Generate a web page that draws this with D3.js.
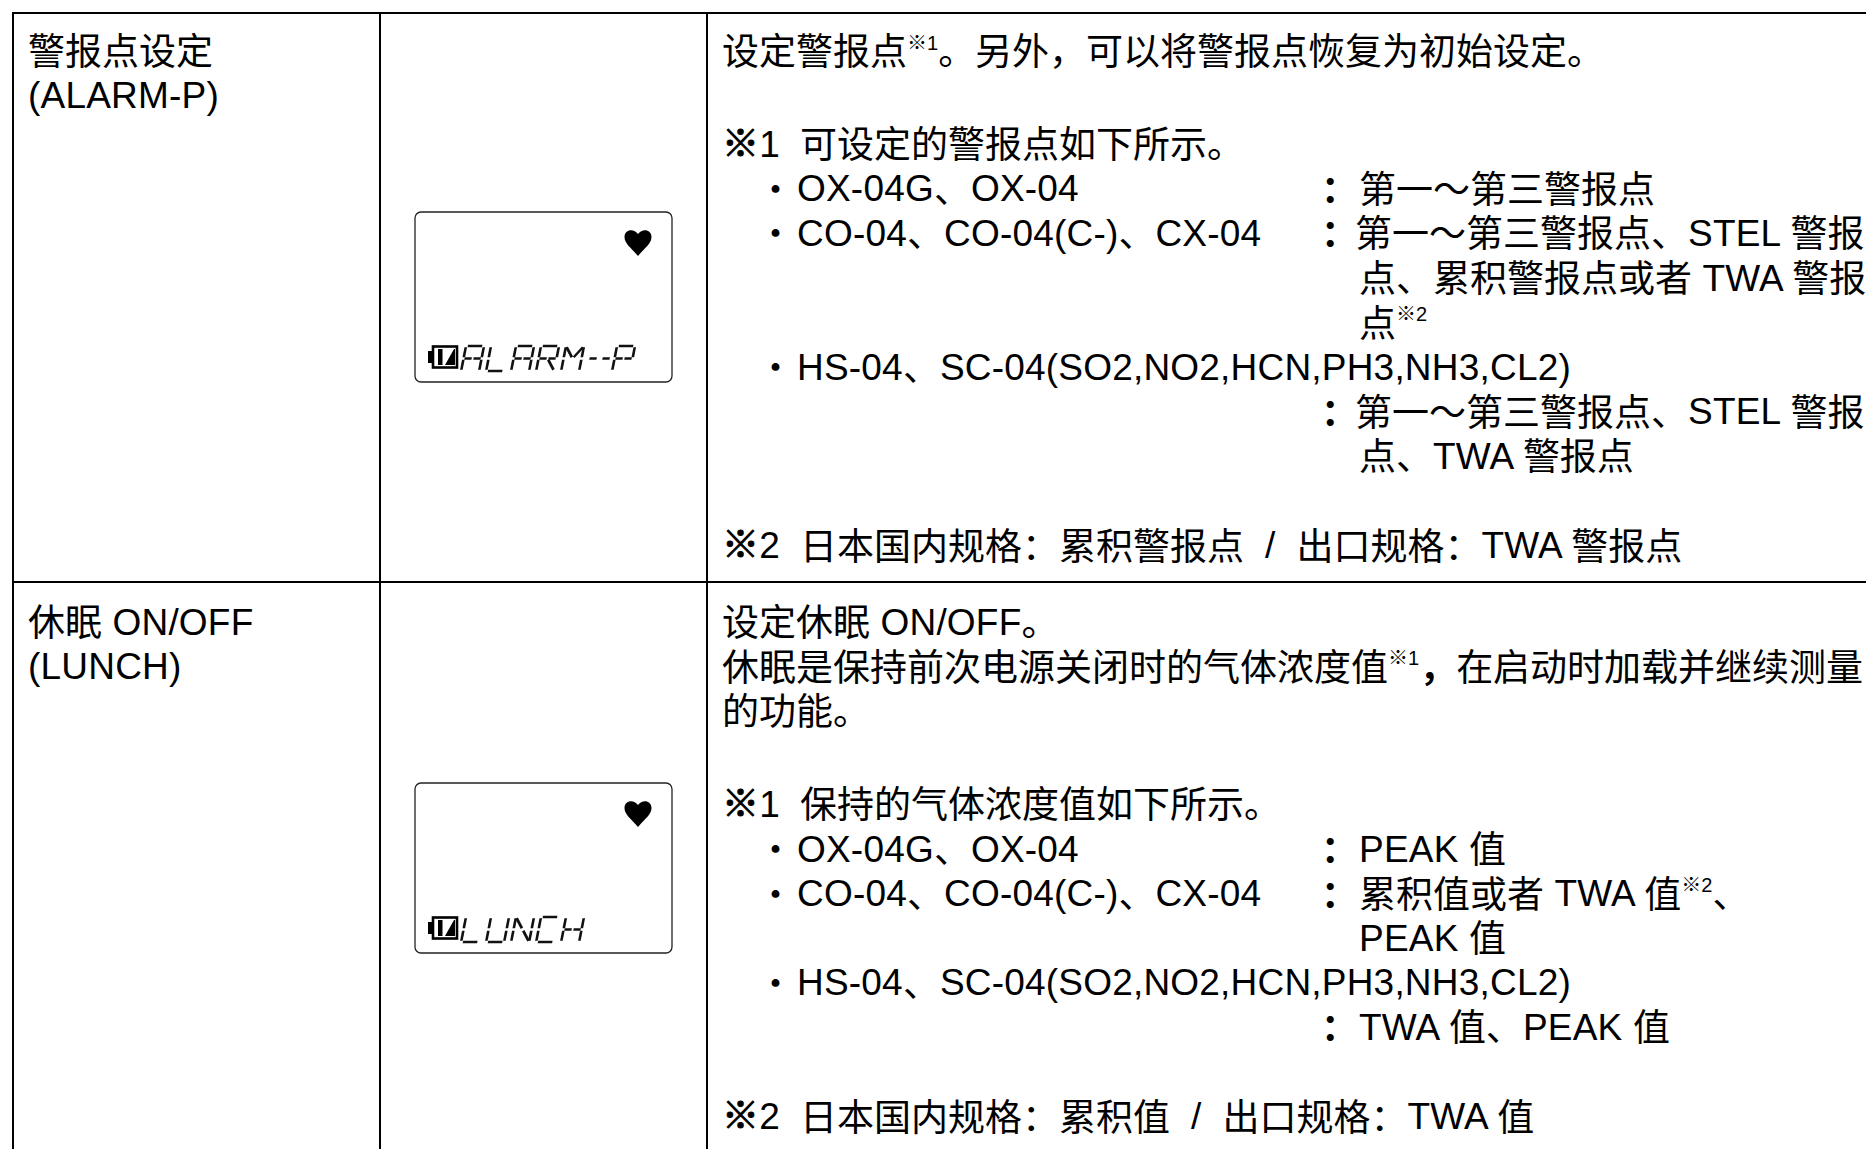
<!DOCTYPE html>
<html>
<head>
<meta charset="utf-8">
<style>
  html, body { margin: 0; padding: 0; background: #fff; }
  svg { display: block; }
  text { font-family: "Liberation Sans", "Noto Sans CJK SC", sans-serif; fill: #000; white-space: pre; }
</style>
<script src="https://d3js.org/d3.v7.min.js"></script>
</head>
<body>
<div id="graf"></div>
<script>
// row titles, lcd labels and the text of the right hand column
// fields split by | go to the columns of the description cell, ^x^ is a superscript
const rowNames = [['警报点设定', '(ALARM-P)'], ['休眠 ON/OFF', '(LUNCH)']]
const lcdLabels = ['ALARM--P', 'LUNCH']

const alarmLines = [
  '设定警报点^※1^。另外，可以将警报点恢复为初始设定。',
  '',
  '※1|可设定的警报点如下所示。',
  '・|OX-04G、OX-04|：|第一～第三警报点',
  '・|CO-04、CO-04(C-)、CX-04|：|第一～第三警报点、STEL 警报',
  '|||点、累积警报点或者 TWA 警报',
  '|||点^※2^',
  '・|HS-04、SC-04(SO2,NO2,HCN,PH3,NH3,CL2)',
  '||：|第一～第三警报点、STEL 警报',
  '|||点、TWA 警报点',
  '',
  '※2|日本国内规格：累积警报点  /  出口规格：TWA 警报点'
]

const lunchLines = [
  '设定休眠 ON/OFF。',
  '休眠是保持前次电源关闭时的气体浓度值^※1^，在启动时加载并继续测量',
  '的功能。',
  '',
  '※1|保持的气体浓度值如下所示。',
  '・|OX-04G、OX-04|：|PEAK 值',
  '・|CO-04、CO-04(C-)、CX-04|：|累积值或者 TWA 值^※2^、',
  '|||PEAK 值',
  '・|HS-04、SC-04(SO2,NO2,HCN,PH3,NH3,CL2)',
  '||：|TWA 值、PEAK 值',
  '',
  '※2|日本国内规格：累积值  /  出口规格：TWA 值'
]

// 14 segment display
const segments = {
  a: [[0, 2], [1, 2]], b: [[1, 2], [1, 1]], c: [[1, 1], [1, 0]], d: [[0, 0], [1, 0]],
  e: [[0, 1], [0, 0]], f: [[0, 2], [0, 1]], g: [[0, 1], [0.5, 1]], k: [[0.5, 1], [1, 1]],
  h: [[0, 2], [0.5, 1]], j: [[1, 2], [0.5, 1]], m: [[0.5, 1], [1, 0]]
}
const glyphs = {
  A: 'abcefgk', L: 'def', R: 'abefgkm', M: 'bcefhj', P: 'abefgk',
  U: 'bcdef', N: 'bcefhm', C: 'adef', H: 'bcefgk', '-': 'g'
}

const ancho = 1866
const alto = 1149

const svg = d3.select('#graf')
  .append('svg')
  .attr('width', ancho)
  .attr('height', alto)

const col = { left: 13, second: 380, third: 707 }
const rowTop = [13, 582]
const rowOffset = 571

const lineY = d3.scaleLinear().domain([0, 1]).range([63.5, 108.1])
const fieldX = [722, 797, 1321, 1359]

const g = svg.append('g')

// table grid
const grid = g.append('g').attr('stroke', '#000').attr('stroke-width', 2)
grid.append('line').attr('x1', col.left).attr('x2', ancho).attr('y1', rowTop[0]).attr('y2', rowTop[0])
grid.append('line').attr('x1', col.left).attr('x2', ancho).attr('y1', rowTop[1]).attr('y2', rowTop[1])
Object.values(col).forEach(x => {
  grid.append('line').attr('x1', x).attr('x2', x).attr('y1', rowTop[0] - 1).attr('y2', alto)
})

function addText(parent, str, x, y) {
  const t = parent.append('text').attr('x', x).attr('y', y).attr('font-size', 37)
  str.split('^').forEach((part, i) => {
    const sup = i % 2 == 1
    // cjk runs sit a little lower than latin ones
    const runs = part.match(/[※，：]|[\u3000-\uffff]+|[^\u3000-\uffff]+/g) || []
    runs.forEach(run => {
      const cjk = /[\u3000-\uffff]/.test(run)
      const s = t.append('tspan')
        .attr('y', (sup ? y - 14 : y) + (cjk ? 1.5 : 0))
        .attr('font-size', sup ? 20 : 37)
        .text(run)
      if (!cjk && !sup) s.attr('letter-spacing', 0.2)
      if (run == '，' || str == '：') s.attr('font-weight', 700)
      if (run == '※' && !sup) s.attr('stroke', '#000').attr('stroke-width', 1)
    })
  })
}

function drawRow(r, lines) {
  const row = g.append('g').attr('transform', `translate(0, ${r * rowOffset})`)

  rowNames[r].forEach((name, i) => addText(row, name, 28, lineY(i)))

  let gap = 0
  lines.forEach((line, i) => {
    if (line == '') { gap = 4; return }
    line.split('|').forEach((field, f) => {
      if (field == '') return
      let x = fieldX[f]
      if (field == '・') x = 757
      if (f == 1 && line[0] == '※') x = 800
      if (field.includes('STEL')) x = 1355
      addText(row, field, x, lineY(i) + gap)
    })
  })

  drawLcd(row, lcdLabels[r])
}

function drawLcd(parent, label) {
  const lcd = parent.append('g')
  lcd.append('rect')
    .attr('x', 415).attr('y', 212)
    .attr('width', 257).attr('height', 170).attr('rx', 6)
    .attr('fill', '#fff').attr('stroke', '#222').attr('stroke-width', 1.3)

  // heart
  const p = d3.path()
  p.moveTo(638, 256)
  p.bezierCurveTo(630, 247, 624.5, 243, 624.5, 237)
  p.bezierCurveTo(624.5, 229, 634, 228, 638, 234)
  p.bezierCurveTo(642, 228, 651.5, 229, 651.5, 237)
  p.bezierCurveTo(651.5, 243, 646, 247, 638, 256)
  p.closePath()
  lcd.append('path').attr('d', p.toString()).attr('fill', '#000')

  // battery
  lcd.append('rect').attr('x', 433).attr('y', 346.5).attr('width', 24).attr('height', 21)
    .attr('fill', 'none').attr('stroke', '#000').attr('stroke-width', 2.6)
  lcd.append('rect').attr('x', 428).attr('y', 351).attr('width', 5).attr('height', 12).attr('fill', '#000')
  lcd.append('rect').attr('x', 438).attr('y', 349).attr('width', 4.5).attr('height', 16).attr('fill', '#000')
  lcd.append('path').attr('d', 'M445 365 L454 349 L455 349 L455 365 Z').attr('fill', '#000')

  // segments
  const sx = d3.scaleLinear().domain([0, 1]).range([0, 18])
  const sy = d3.scaleLinear().domain([0, 2]).range([25, 0])
  let cursor = 461
  label.split('').forEach(ch => {
    const cell = lcd.append('g').attr('transform', `translate(${cursor}, 346) translate(5, 0) skewX(-11)`)
    glyphs[ch].split('').forEach(s => {
      const [a, b] = segments[s]
      // small gap at both ends of a segment
      const x1 = sx(a[0]) + (sx(b[0]) - sx(a[0])) * 0.1
      const y1 = sy(a[1]) + (sy(b[1]) - sy(a[1])) * 0.1
      const x2 = sx(a[0]) + (sx(b[0]) - sx(a[0])) * 0.9
      const y2 = sy(a[1]) + (sy(b[1]) - sy(a[1])) * 0.9
      cell.append('line')
        .attr('x1', x1).attr('y1', y1).attr('x2', x2).attr('y2', y2)
        .attr('stroke', '#111').attr('stroke-width', 2.6)
    })
    cursor += ch == '-' ? 13 : 25
  })
}

drawRow(0, alarmLines)
drawRow(1, lunchLines)
</script>
</body>
</html>
